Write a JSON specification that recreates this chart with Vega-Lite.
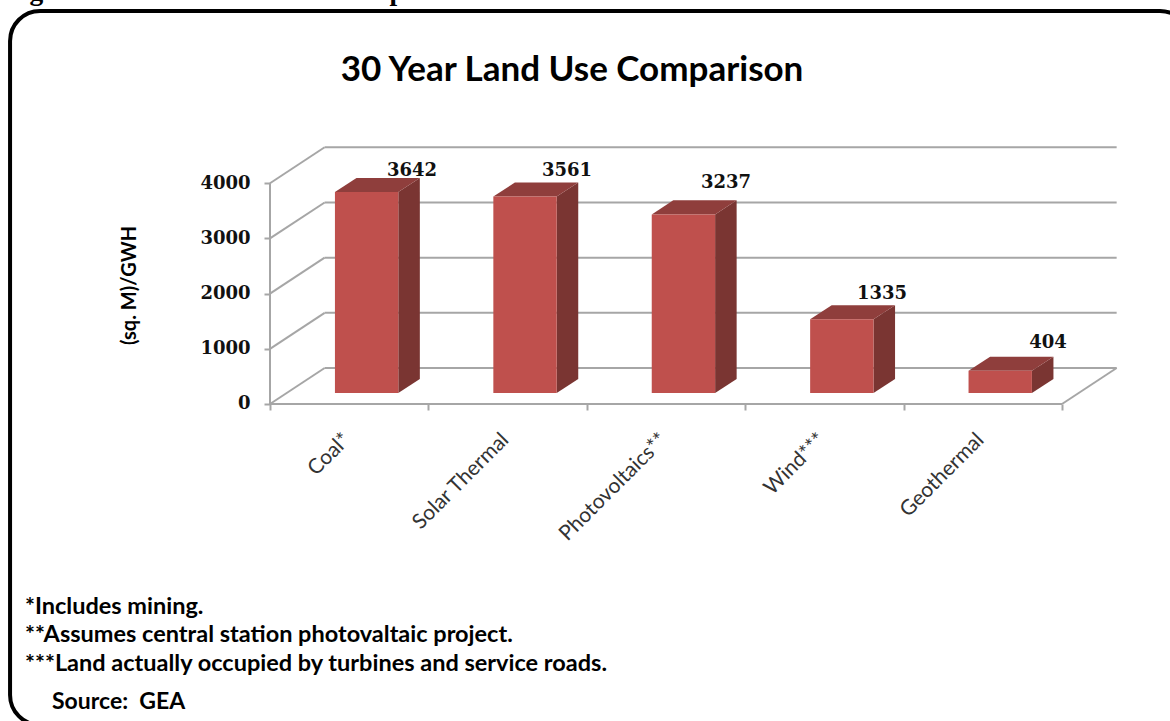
{
"$schema":"https://vega.github.io/schema/vega-lite/v6.json",
"width":1170,"height":721,"padding":0,"autosize":{"type":"none"},
"background":"white",
"view":{"stroke":null},
"resolve":{"axis":{"x":"independent","y":"independent"}},
"datasets":{
"bars":[
{"category":"Coal*","idx":0,"value":3642},
{"category":"Solar Thermal","idx":1,"value":3561},
{"category":"Photovoltaics**","idx":2,"value":3237},
{"category":"Wind***","idx":3,"value":1335},
{"category":"Geothermal","idx":4,"value":404}],
"ticks":[{"v":0},{"v":1000},{"v":2000},{"v":3000},{"v":4000}],
"notes":[
{"text":"*Includes mining.","n":0},
{"text":"**Assumes central station photovaltaic project.","n":1},
{"text":"***Land actually occupied by turbines and service roads.","n":2}]
},
"layer":[
{"data":{"name":"ticks"},"mark":{"type":"rule","color":"#A6A6A6","strokeWidth":2},
"encoding":{
"x":{"datum":0.345,"type":"quantitative","scale":{"domain":[-1.7045,5.6818],"nice":false,"zero":false},
"axis":{"values":[0,1,2,3,4,5],"labels":false,"title":null,"grid":false,"domain":false,"ticks":true,"tickColor":"#A6A6A6","tickWidth":2,"tickSize":6,"offset":-317}},
"x2":{"datum":5.345},
"y":{"field":"back","type":"quantitative","scale":{"domain":[-5745,7321],"nice":false,"zero":false},
"axis":{"values":[0,1000,2000,3000,4000],"format":"d","title":null,"grid":false,"domain":false,"ticks":true,"tickColor":"#A6A6A6","tickWidth":2,"tickSize":6,"offset":-270,"labelFont":"DejaVu Serif","labelFontWeight":"bold","labelFontSize":18,"labelColor":"#111111","labelPadding":14}},
"y2":{"field":"back"}},
"transform":[{"calculate":"datum.v+652","as":"back"}]},
{"data":{"name":"ticks"},"mark":{"type":"rule","color":"#A6A6A6","strokeWidth":2},
"transform":[{"calculate":"datum.v+652","as":"back"}],
"encoding":{"x":{"datum":0,"type":"quantitative","axis":null},"x2":{"datum":0.345},
"y":{"field":"v","type":"quantitative","axis":null},"y2":{"field":"back"}}},
{"data":{"values":[{"a":0}]},"mark":{"type":"rule","color":"#A6A6A6","strokeWidth":2},
"encoding":{"x":{"datum":0,"type":"quantitative","axis":null},"x2":{"datum":0},"y":{"datum":0,"type":"quantitative","axis":null},"y2":{"datum":4000}}},
{"data":{"values":[{"a":0}]},"mark":{"type":"rule","color":"#A6A6A6","strokeWidth":2},
"encoding":{"x":{"datum":0,"type":"quantitative","axis":null},"x2":{"datum":5},"y":{"datum":0,"type":"quantitative","axis":null},"y2":{"datum":0}}},
{"data":{"values":[{"a":0}]},"mark":{"type":"rule","color":"#A6A6A6","strokeWidth":2},
"encoding":{"x":{"datum":5,"type":"quantitative","axis":null},"x2":{"datum":5.345},"y":{"datum":0,"type":"quantitative","axis":null},"y2":{"datum":652}}},
{"data":{"name":"bars"},"mark":{"type":"area","color":"#7A3532","opacity":1},
"transform":[{"calculate":"[0,1]","as":"t"},{"flatten":["t"]},
{"calculate":"datum.idx+0.81+datum.t*0.136","as":"sx"},
{"calculate":"199+datum.t*254","as":"sy"},
{"calculate":"199+datum.value+datum.t*254","as":"sy2"}],
"encoding":{"x":{"field":"sx","type":"quantitative","axis":null},"y":{"field":"sy","type":"quantitative","axis":null},"y2":{"field":"sy2"},"detail":{"field":"idx"}}},
{"data":{"name":"bars"},"mark":{"type":"area","orient":"horizontal","color":"#8F3E3C","opacity":1},
"transform":[{"calculate":"[0,1]","as":"t"},{"flatten":["t"]},
{"calculate":"datum.idx+0.41+datum.t*0.136","as":"tx"},
{"calculate":"datum.idx+0.81+datum.t*0.136","as":"tx2"},
{"calculate":"199+datum.value+datum.t*254","as":"ty"}],
"encoding":{"y":{"field":"ty","type":"quantitative","axis":null},"x":{"field":"tx","type":"quantitative","axis":null},"x2":{"field":"tx2"},"detail":{"field":"idx"}}},
{"data":{"name":"bars"},"mark":{"type":"rect","color":"#BF504D"},
"transform":[{"calculate":"datum.idx+0.41","as":"fx"},{"calculate":"datum.idx+0.81","as":"fx2"},{"calculate":"199+datum.value","as":"top"},{"calculate":"199","as":"base"}],
"encoding":{"x":{"field":"fx","type":"quantitative","axis":null},"x2":{"field":"fx2"},"y":{"field":"base","type":"quantitative","axis":null},"y2":{"field":"top"}}},
{"data":{"name":"bars"},"mark":{"type":"text","font":"DejaVu Serif","fontWeight":"bold","fontSize":18,"color":"#111111","align":"center","baseline":"middle"},
"transform":[{"calculate":"datum.idx+[0.896,0.875,0.879,0.864,0.912][datum.idx]","as":"lx"},{"calculate":"datum.value+[580,662,768,658,702][datum.idx]","as":"ly"}],
"encoding":{"x":{"field":"lx","type":"quantitative","axis":null},"y":{"field":"ly","type":"quantitative","axis":null},"text":{"field":"value","type":"quantitative"}}},
{"data":{"name":"bars"},"mark":{"type":"text","font":"Lato","fontSize":21,"color":"#333333","align":"right","baseline":"middle","angle":315},
"transform":[{"calculate":"datum.idx+0.487","as":"lx"},{"calculate":"-598","as":"ly"}],
"encoding":{"x":{"field":"lx","type":"quantitative","axis":null},"y":{"field":"ly","type":"quantitative","axis":null},"text":{"field":"category","type":"nominal"}}},
{"data":{"name":"notes"},"mark":{"type":"text","font":"Lato","fontWeight":"bold","fontSize":23.5,"color":"#000000","align":"left","baseline":"middle"},
"transform":[{"calculate":"-1.547","as":"nx"},{"calculate":"[-3679,-4186,-4712][datum.n]","as":"ny"}],
"encoding":{"x":{"field":"nx","type":"quantitative","axis":null},"y":{"field":"ny","type":"quantitative","axis":null},"text":{"field":"text","type":"nominal"}}},
{"data":{"values":[{"a":0}]},"mark":{"type":"text","text":"Source:\u00a0\u00a0GEA","font":"Lato","fontWeight":"bold","fontSize":23,"color":"#000000","align":"left","baseline":"middle"},
"encoding":{"x":{"datum":-1.376,"type":"quantitative","axis":null},"y":{"datum":-5400,"type":"quantitative","axis":null}}},
{"data":{"values":[{"a":0}]},"mark":{"type":"text","text":"30 Year Land Use Comparison","font":"Lato","fontWeight":"bold","fontSize":35,"color":"#000000","align":"center","baseline":"middle"},
"encoding":{"x":{"datum":1.907,"type":"quantitative","axis":null},"y":{"datum":6053,"type":"quantitative","axis":null}}},
{"data":{"values":[{"a":0}]},"mark":{"type":"text","text":"(sq. M)/GWH","font":"Lato","fontWeight":"bold","fontSize":20,"color":"#000000","align":"center","baseline":"middle","angle":270},
"encoding":{"x":{"datum":-0.884,"type":"quantitative","axis":null},"y":{"datum":2147,"type":"quantitative","axis":null}}},
{"data":{"values":[{"a":0}]},"mark":{"type":"text","text":"Figure 4: 30 Year Land Use Comparison","font":"Liberation Serif","fontWeight":"bold","fontSize":27.5,"color":"#000000","align":"left","baseline":"alphabetic"},
"encoding":{"x":{"datum":-1.673,"type":"quantitative","axis":null},"y":{"datum":7321,"type":"quantitative","axis":null}}},
{"data":{"values":[{"a":0}]},"mark":{"type":"rect","fill":null,"fillOpacity":0,"stroke":"#000000","strokeWidth":4,"cornerRadius":30},
"encoding":{"x":{"datum":-1.641,"type":"quantitative","axis":null},"x2":{"datum":5.808},"y":{"datum":7122,"type":"quantitative","axis":null},"y2":{"datum":-5817}}}
]
}
